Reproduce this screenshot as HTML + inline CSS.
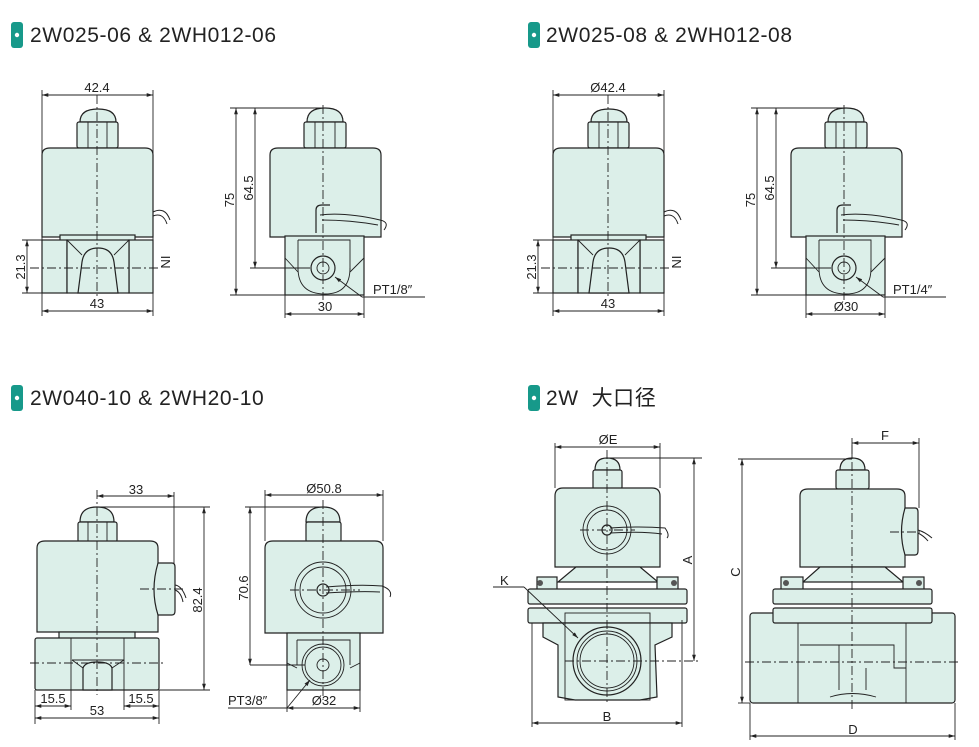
<!DOCTYPE html>
<html><head><meta charset="utf-8"><style>
html,body{margin:0;padding:0;background:#fff;}
svg{display:block;}
.t{font-family:"Liberation Sans","Noto Sans CJK SC",sans-serif;font-size:21px;letter-spacing:0.6px;fill:#222;}
.d{font-family:"Liberation Sans",sans-serif;font-size:13px;fill:#222;}
.s{fill:#dcefe9;stroke:#222;stroke-width:1.2;}
.l{fill:none;stroke:#222;stroke-width:0.9;}
.c{fill:none;stroke:#222;stroke-width:0.9;stroke-dasharray:9 3 2 3;}
.w{fill:none;stroke:#222;stroke-width:1;}
</style></head><body>
<svg width="979" height="747" viewBox="0 0 979 747" xmlns="http://www.w3.org/2000/svg">
<defs>
<marker id="a" viewBox="0 0 10 10" refX="10" refY="5" markerWidth="7" markerHeight="7" orient="auto-start-reverse"><path d="M0,2 L10,5 L0,8z" fill="#222"/></marker>
</defs>

<!-- headers -->
<rect x="11" y="22" width="12" height="26" rx="3" fill="#17998a"/><circle cx="17" cy="35" r="2.2" fill="#fff"/>
<text class="t" x="30" y="42">2W025-06 &amp; 2WH012-06</text>
<rect x="528" y="22" width="12" height="26" rx="3" fill="#17998a"/><circle cx="534" cy="35" r="2.2" fill="#fff"/>
<text class="t" x="546" y="42">2W025-08 &amp; 2WH012-08</text>
<rect x="11" y="385" width="12" height="26" rx="3" fill="#17998a"/><circle cx="17" cy="398" r="2.2" fill="#fff"/>
<text class="t" x="30" y="405">2W040-10 &amp; 2WH20-10</text>
<rect x="528" y="385" width="12" height="26" rx="3" fill="#17998a"/><circle cx="534" cy="398" r="2.2" fill="#fff"/>
<text class="t" x="546" y="405">2W&#160;&#160;大口径</text>

<!-- top front view template -->
<g id="f1">
<path class="s" d="M80,122 Q80,109 98,109 Q116,109 116,122z"/>
<rect class="s" x="77" y="122" width="41" height="26" rx="2"/>
<line class="l" x1="88" y1="122" x2="88" y2="148"/><line class="l" x1="107" y1="122" x2="107" y2="148"/>
<path class="s" d="M42,237 L42,155 Q42,148 50,148 L145,148 Q153,148 153,155 L153,237z"/>
<path class="w" d="M153,212 Q165,206 170,220 M153,216 Q163,212 167,224"/>
<rect class="s" x="60" y="235" width="75" height="6"/>
<rect class="s" x="42" y="240" width="25" height="53"/>
<rect class="s" x="129" y="240" width="24" height="53"/>
<rect class="s" x="67" y="240" width="62" height="53"/>
<path class="l" d="M67,240 L82,255 M129,240 L114,255"/>
<path class="s" d="M78,293 L82,262 Q84,248 98,248 Q112,248 114,262 L118,293z"/>
<line class="c" x1="97" y1="95" x2="97" y2="298"/>
<line class="c" x1="30" y1="268" x2="160" y2="268"/>
<line class="l" x1="42" y1="90" x2="42" y2="240"/><line class="l" x1="153" y1="90" x2="153" y2="240"/>
<line class="l" x1="42" y1="95" x2="153" y2="95" marker-start="url(#a)" marker-end="url(#a)"/>
<line class="l" x1="42" y1="293" x2="42" y2="316"/><line class="l" x1="153" y1="293" x2="153" y2="316"/>
<line class="l" x1="42" y1="311" x2="153" y2="311" marker-start="url(#a)" marker-end="url(#a)"/>
<line class="l" x1="22" y1="240" x2="42" y2="240"/><line class="l" x1="22" y1="293" x2="42" y2="293"/>
<line class="l" x1="27" y1="240" x2="27" y2="293" marker-start="url(#a)" marker-end="url(#a)"/>
<text class="d" x="97" y="308" text-anchor="middle">43</text>
<text class="d" transform="translate(25,267) rotate(-90)" text-anchor="middle">21.3</text>
<text class="d" transform="translate(161,262) rotate(90)" text-anchor="middle">IN</text>
</g>
<text class="d" x="97" y="92" text-anchor="middle">42.4</text>
<use href="#f1" x="511"/>
<text class="d" x="608" y="92" text-anchor="middle">Ø42.4</text>

<!-- top side view -->
<g id="s1">
<path class="s" d="M307,122 Q307,108 325,108 Q343,108 343,122z"/>
<rect class="s" x="304" y="122" width="42" height="26" rx="2"/>
<line class="l" x1="315" y1="122" x2="315" y2="148"/><line class="l" x1="335" y1="122" x2="335" y2="148"/>
<path class="s" d="M270,237 L270,155 Q270,148 278,148 L373,148 Q381,148 381,155 L381,237z"/>
<rect class="s" x="285" y="236" width="79" height="59"/>
<path class="l" d="M298,240 L350,240 L350,270 M298,240 L298,270 M285,258 L298,272 M364,258 L350,272"/>
<path class="l" d="M298,268 Q298,294 325,294 Q350,294 350,268"/>
<circle class="s" cx="323" cy="268" r="12"/><circle class="l" cx="323" cy="268" r="6"/>
<path class="s" d="M316,233 L316,210 Q316,205 322,205 L330,205"/>
<path class="w" d="M320,215 Q345,212 380,220 Q390,222 384,230 M322,220 Q350,220 378,225"/>
<line class="c" x1="323" y1="105" x2="323" y2="300"/>
<line class="l" x1="230" y1="108" x2="325" y2="108"/>
<line class="l" x1="230" y1="295" x2="285" y2="295"/>
<line class="l" x1="250" y1="268" x2="310" y2="268"/>
<line class="l" x1="236" y1="108" x2="236" y2="295" marker-start="url(#a)" marker-end="url(#a)"/>
<line class="l" x1="255" y1="108" x2="255" y2="268" marker-start="url(#a)" marker-end="url(#a)"/>
<line class="l" x1="285" y1="295" x2="285" y2="318"/><line class="l" x1="364" y1="295" x2="364" y2="318"/>
<line class="l" x1="285" y1="314" x2="364" y2="314" marker-start="url(#a)" marker-end="url(#a)"/>
<line class="l" x1="362" y1="297" x2="335" y2="277" marker-end="url(#a)"/>
<line class="l" x1="362" y1="297" x2="425" y2="297"/>
<text class="d" transform="translate(234,200) rotate(-90)" text-anchor="middle">75</text>
<text class="d" transform="translate(253,188) rotate(-90)" text-anchor="middle">64.5</text>
</g>
<text class="d" x="325" y="311" text-anchor="middle">30</text>
<text class="d" x="373" y="294">PT1/8″</text>
<use href="#s1" x="521"/>
<text class="d" x="846" y="311" text-anchor="middle">Ø30</text>
<text class="d" x="893" y="294">PT1/4″</text>

<!-- bottom-left front -->
<path class="s" d="M80,522 Q80,507 97,507 Q114,507 114,522z"/>
<rect class="s" x="78" y="522" width="39" height="20" rx="2"/>
<line class="l" x1="88" y1="522" x2="88" y2="542"/><line class="l" x1="107" y1="522" x2="107" y2="542"/>
<path class="s" d="M37,632 L37,548 Q37,541 45,541 L150,541 Q158,541 158,548 L158,632z"/>
<path class="s" d="M158,563 L172,563 Q175,563 175,567 L175,611 Q175,615 172,615 L158,615 Q150,590 158,563z"/>
<path class="w" d="M175,585 Q182,586 186,598 M175,590 Q181,592 183,602"/>
<rect class="s" x="59" y="632" width="76" height="8"/>
<rect class="s" x="35" y="638" width="124" height="52" rx="2"/>
<line class="l" x1="71" y1="638" x2="71" y2="690"/><line class="l" x1="124" y1="638" x2="124" y2="690"/>
<path class="l" d="M72,660 L124,660 M72,660 L83,668 M124,660 L112,668"/>
<path class="s" d="M83,690 L83,668 Q85,662 97,662 Q110,662 112,668 L112,690z"/>
<line class="c" x1="97" y1="490" x2="97" y2="695"/>
<line class="c" x1="30" y1="663" x2="165" y2="663"/>
<line class="c" x1="140" y1="589" x2="185" y2="589"/>
<line class="l" x1="97" y1="496" x2="174" y2="496" marker-start="url(#a)" marker-end="url(#a)"/>
<line class="l" x1="174" y1="492" x2="174" y2="563"/>
<text class="d" x="136" y="494" text-anchor="middle">33</text>
<line class="l" x1="100" y1="507" x2="210" y2="507"/><line class="l" x1="159" y1="690" x2="210" y2="690"/>
<line class="l" x1="204" y1="507" x2="204" y2="690" marker-start="url(#a)" marker-end="url(#a)"/>
<text class="d" transform="translate(202,600) rotate(-90)" text-anchor="middle">82.4</text>
<line class="l" x1="35" y1="690" x2="35" y2="724"/><line class="l" x1="71" y1="690" x2="71" y2="710"/>
<line class="l" x1="124" y1="690" x2="124" y2="710"/><line class="l" x1="159" y1="690" x2="159" y2="724"/>
<line class="l" x1="35" y1="706" x2="71" y2="706" marker-start="url(#a)" marker-end="url(#a)"/>
<line class="l" x1="124" y1="706" x2="159" y2="706" marker-start="url(#a)" marker-end="url(#a)"/>
<line class="l" x1="35" y1="718" x2="159" y2="718" marker-start="url(#a)" marker-end="url(#a)"/>
<text class="d" x="53" y="703" text-anchor="middle">15.5</text>
<text class="d" x="141" y="703" text-anchor="middle">15.5</text>
<text class="d" x="97" y="715" text-anchor="middle">53</text>

<!-- bottom-left side -->
<path class="s" d="M306,522 Q306,507 323,507 Q340,507 340,522z"/>
<rect class="s" x="306" y="522" width="35" height="20" rx="2"/>
<path class="s" d="M265,633 L265,548 Q265,541 273,541 L375,541 Q383,541 383,548 L383,633z"/>
<circle class="l" cx="323" cy="590" r="28"/><circle class="l" cx="323" cy="590" r="23"/><circle class="s" cx="323" cy="590" r="6"/>
<path class="w" d="M326,587 Q360,584 382,586 Q393,590 390,597 M326,593 Q360,591 380,592"/>
<rect class="s" x="287" y="633" width="73" height="57"/>
<path class="l" d="M297,640 L350,640 L350,665 M297,640 L297,665 M287,663 L297,668 M360,663 L350,668"/>
<circle class="l" cx="323" cy="665" r="21"/><circle class="l" cx="323" cy="665" r="18"/><circle class="l" cx="323" cy="665" r="6"/>
<line class="c" x1="323" y1="500" x2="323" y2="700"/>
<line class="c" x1="290" y1="590" x2="360" y2="590"/>
<line class="l" x1="250" y1="665" x2="305" y2="665"/>
<line class="l" x1="265" y1="490" x2="265" y2="541"/><line class="l" x1="383" y1="490" x2="383" y2="541"/>
<line class="l" x1="265" y1="495" x2="383" y2="495" marker-start="url(#a)" marker-end="url(#a)"/>
<text class="d" x="324" y="493" text-anchor="middle">Ø50.8</text>
<line class="l" x1="245" y1="507" x2="323" y2="507"/>
<line class="l" x1="250" y1="507" x2="250" y2="665" marker-start="url(#a)" marker-end="url(#a)"/>
<text class="d" transform="translate(248,588) rotate(-90)" text-anchor="middle">70.6</text>
<line class="l" x1="287" y1="690" x2="287" y2="712"/><line class="l" x1="360" y1="690" x2="360" y2="712"/>
<line class="l" x1="287" y1="708" x2="360" y2="708" marker-start="url(#a)" marker-end="url(#a)"/>
<text class="d" x="324" y="705" text-anchor="middle">Ø32</text>
<line class="l" x1="287" y1="708" x2="310" y2="680" marker-end="url(#a)"/>
<line class="l" x1="228" y1="708" x2="287" y2="708"/>
<text class="d" x="228" y="705">PT3/8″</text>

<!-- bottom-right front -->
<path class="s" d="M595,470 Q595,458 607,458 Q620,458 620,470z"/>
<rect class="s" x="593" y="470" width="29" height="19" rx="2"/>
<path class="s" d="M555,567 L555,496 Q555,488 563,488 L652,488 Q660,488 660,496 L660,567z"/>
<circle class="l" cx="607" cy="530" r="24"/><circle class="l" cx="607" cy="530" r="20"/><circle class="s" cx="607" cy="530" r="5"/>
<path class="w" d="M610,528 Q640,526 665,528 Q670,535 667,538 M610,533 Q640,531 662,534"/>
<path class="s" d="M576,567 L640,567 L658,582 L558,582z"/>
<rect class="s" x="537" y="577" width="20" height="13"/><rect class="s" x="657" y="577" width="21" height="13"/>
<circle cx="540" cy="583" r="3" fill="#555"/><circle cx="674" cy="583" r="3" fill="#555"/>
<rect class="s" x="528" y="589" width="159" height="15" rx="2"/>
<rect class="s" x="528" y="608" width="159" height="15" rx="2"/>
<path class="s" d="M543,623 L672,623 L672,637 L655,645 L657,697 L640,700 L575,700 L558,697 L558,645 L543,637z"/>
<rect class="l" x="565" y="613" width="85" height="87"/>
<circle class="s" cx="607" cy="661" r="34"/><circle class="l" cx="607" cy="661" r="30"/><circle class="l" cx="607" cy="661" r="27"/>
<line class="c" x1="607" y1="450" x2="607" y2="705"/>
<line class="c" x1="580" y1="530" x2="635" y2="530"/>
<line class="c" x1="565" y1="661" x2="700" y2="661"/>
<line class="l" x1="555" y1="443" x2="555" y2="488"/><line class="l" x1="660" y1="443" x2="660" y2="488"/>
<line class="l" x1="555" y1="447" x2="660" y2="447" marker-start="url(#a)" marker-end="url(#a)"/>
<text class="d" x="608" y="444" text-anchor="middle">ØE</text>
<line class="l" x1="607" y1="458" x2="702" y2="458"/>
<line class="l" x1="694" y1="458" x2="694" y2="661" marker-start="url(#a)" marker-end="url(#a)"/>
<text class="d" transform="translate(692,560) rotate(-90)" text-anchor="middle">A</text>
<line class="l" x1="532" y1="623" x2="532" y2="727"/><line class="l" x1="682" y1="620" x2="682" y2="727"/>
<line class="l" x1="532" y1="723" x2="682" y2="723" marker-start="url(#a)" marker-end="url(#a)"/>
<text class="d" x="607" y="721" text-anchor="middle">B</text>
<line class="l" x1="493" y1="587" x2="524" y2="587"/>
<line class="l" x1="524" y1="587" x2="578" y2="638" marker-end="url(#a)"/>
<text class="d" x="500" y="585">K</text>

<!-- bottom-right side -->
<path class="s" d="M840,470 Q840,458 852,458 Q865,458 865,470z"/>
<rect class="s" x="836" y="470" width="33" height="19" rx="2"/>
<path class="s" d="M800,567 L800,496 Q800,489 808,489 L897,489 Q905,489 905,496 L905,567z"/>
<path class="s" d="M905,508 L915,508 Q918,508 918,512 L918,551 Q918,555 915,555 L905,555 Q898,532 905,508z"/>
<path class="w" d="M918,530 Q925,532 932,538 M918,533 Q924,536 928,541"/>
<path class="s" d="M820,567 L885,567 L903,582 L803,582z"/>
<rect class="s" x="781" y="577" width="22" height="13"/><rect class="s" x="903" y="577" width="21" height="13"/>
<circle cx="786" cy="583" r="3" fill="#555"/><circle cx="919" cy="583" r="3" fill="#555"/>
<rect class="s" x="750" y="613" width="205" height="90" rx="3"/>
<line class="l" x1="798" y1="613" x2="798" y2="703"/><line class="l" x1="906" y1="613" x2="906" y2="703"/>
<rect class="s" x="773" y="589" width="159" height="15" rx="2"/>
<rect class="s" x="773" y="608" width="159" height="15" rx="2"/>
<path class="l" d="M800,645 L894,645 L894,668 L906,668 M839,645 L839,690 M866,668 L866,690 M830,697 Q852,690 876,697"/>
<line class="c" x1="852" y1="445" x2="852" y2="710"/>
<line class="c" x1="745" y1="662" x2="960" y2="662"/>
<line class="c" x1="890" y1="532" x2="920" y2="532"/>
<line class="l" x1="852" y1="438" x2="852" y2="458"/><line class="l" x1="919" y1="438" x2="919" y2="508"/>
<line class="l" x1="852" y1="443" x2="919" y2="443" marker-start="url(#a)" marker-end="url(#a)"/>
<text class="d" x="885" y="440" text-anchor="middle">F</text>
<line class="l" x1="738" y1="459" x2="852" y2="459"/><line class="l" x1="738" y1="703" x2="750" y2="703"/>
<line class="l" x1="742" y1="459" x2="742" y2="703" marker-start="url(#a)" marker-end="url(#a)"/>
<text class="d" transform="translate(740,572) rotate(-90)" text-anchor="middle">C</text>
<line class="l" x1="750" y1="703" x2="750" y2="740"/><line class="l" x1="955" y1="703" x2="955" y2="740"/>
<line class="l" x1="750" y1="736" x2="955" y2="736" marker-start="url(#a)" marker-end="url(#a)"/>
<text class="d" x="853" y="734" text-anchor="middle">D</text>
</svg>
</body></html>
